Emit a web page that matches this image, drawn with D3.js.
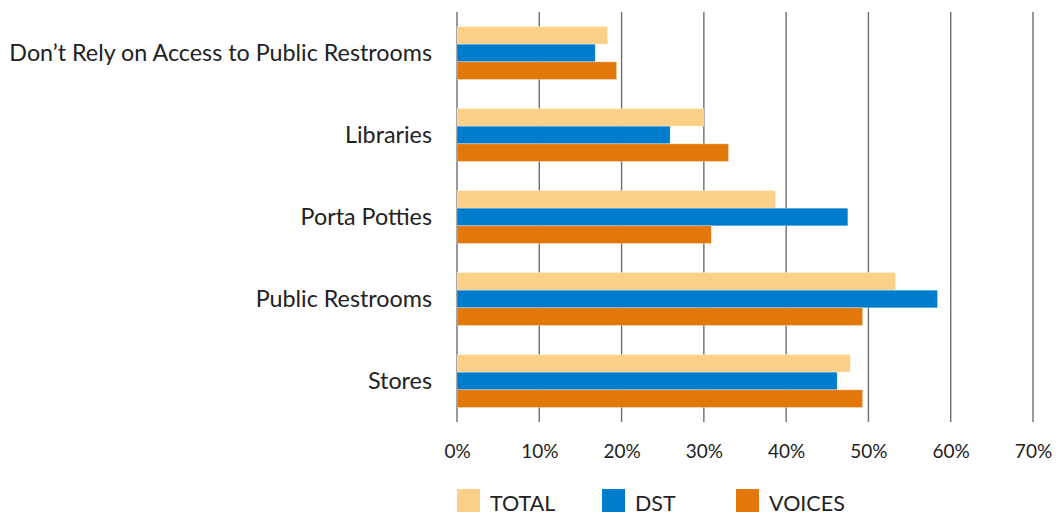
<!DOCTYPE html>
<html>
<head>
<meta charset="utf-8">
<script src="https://cdn.jsdelivr.net/npm/d3@7"></script>
<style>
  body { margin: 0; background: #fff; }
  svg { display: block; }
</style>
</head>
<body>
<svg id="chart"></svg>
<script>
const width = 1058;
const height = 516;

const categories = [
    "Don\u2019t Rely on Access to Public Restrooms",
    "Libraries",
    "Porta Potties",
    "Public Restrooms",
    "Stores"
];
const seriesNames = ["TOTAL", "DST", "VOICES"];
const totalValues = [18.3, 30.0, 38.7, 53.3, 47.8];
const dstValues = [16.8, 25.9, 47.5, 58.4, 46.2];
const voicesValues = [19.4, 33.0, 30.9, 49.3, 49.3];
const tickValues = [0, 10, 20, 30, 40, 50, 60, 70];
const colors = ["#FDD08A", "#007CCC", "#E2780A"];

const fontFamily = "Lato, 'Open Sans', sans-serif";
const margin = { top: 12, right: 25, bottom: 94, left: 457 };

const rows = categories.map((c, i) => ({
    category: c,
    values: [totalValues[i], dstValues[i], voicesValues[i]]
}));

const svg = d3.select("#chart")
    .attr("width", width)
    .attr("height", height);

const x = d3.scaleLinear()
    .domain([0, 70])
    .range([margin.left, width - margin.right]);

const y = d3.scaleBand()
    .domain(categories)
    .range([margin.top, height - margin.bottom])
    .paddingInner(0.354)
    .paddingOuter(0.177);

const ySeries = d3.scaleBand()
    .domain(seriesNames)
    .range([0, y.bandwidth()]);

const color = d3.scaleOrdinal().domain(seriesNames).range(colors);

// gridlines
svg.append("g")
    .selectAll("line").data(tickValues).enter()
    .append("line")
    .attr("x1", d => x(d))
    .attr("x2", d => x(d))
    .attr("y1", margin.top)
    .attr("y2", height - margin.bottom)
    .attr("stroke", "#6e6e6e")
    .attr("stroke-width", 1.4);

// bars
const groups = svg.append("g")
    .selectAll("g").data(rows).enter()
    .append("g")
    .attr("transform", d => "translate(0," + y(d.category) + ")");

groups.selectAll("rect")
    .data(d => d.values.map((v, i) => ({ key: seriesNames[i], value: v })))
    .enter()
    .append("rect")
    .attr("x", x(0))
    .attr("y", d => ySeries(d.key))
    .attr("width", d => x(d.value) - x(0))
    .attr("height", ySeries.bandwidth())
    .attr("fill", d => color(d.key))
    .attr("stroke", "#ffffff")
    .attr("stroke-opacity", 0.5)
    .attr("stroke-width", 0.6);

// category labels
svg.append("g")
    .selectAll("text").data(categories).enter()
    .append("text")
    .attr("x", 432)
    .attr("y", d => y(d) + y.bandwidth() / 2)
    .attr("dy", "0.34em")
    .attr("text-anchor", "end")
    .attr("font-family", fontFamily)
    .attr("font-size", 23.3)
    .attr("fill", "#222")
    .text(d => d);

// x axis labels
const xAxis = d3.axisBottom(x)
    .tickValues(tickValues)
    .tickFormat(d => d + "%")
    .tickSize(0)
    .tickPadding(0);

const axisG = svg.append("g")
    .attr("transform", "translate(0," + 458 + ")")
    .call(xAxis);
axisG.select(".domain").remove();
axisG.selectAll("text")
    .attr("dy", 0)
    .attr("font-family", fontFamily)
    .attr("font-size", 19)
    .attr("fill", "#222");

// legend
const legendX = [457, 602, 736];
const legend = svg.append("g")
    .selectAll("g").data(seriesNames).enter()
    .append("g")
    .attr("transform", (d, i) => "translate(" + legendX[i] + "," + 489 + ")");

legend.append("rect")
    .attr("width", 23)
    .attr("height", 23)
    .attr("fill", d => color(d));

legend.append("text")
    .attr("x", 33)
    .attr("y", 22)
    .attr("font-family", fontFamily)
    .attr("font-size", 21.5)
    .attr("fill", "#222")
    .text(d => d);
</script>
</body>
</html>
